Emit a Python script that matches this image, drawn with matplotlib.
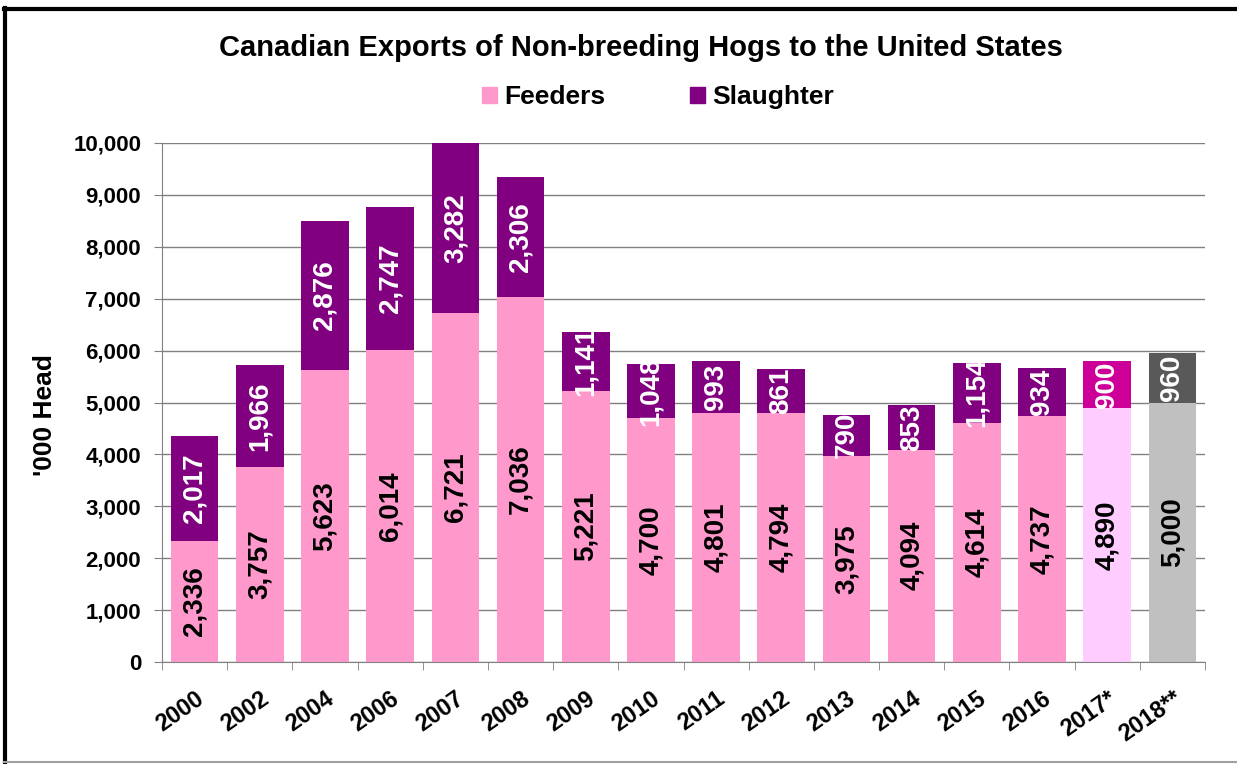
"""Plot Canadian exports of non-breeding hogs to the United States."""

import matplotlib.pyplot as plt
from matplotlib.lines import Line2D
from matplotlib.patches import Patch

years = ['2000', '2002', '2004', '2006', '2007', '2008', '2009', '2010',
         '2011', '2012', '2013', '2014', '2015', '2016', '2017*', '2018**']
feeders = [2336, 3757, 5623, 6014, 6721, 7036, 5221, 4700,
           4801, 4794, 3975, 4094, 4614, 4737, 4890, 5000]
slaughter = [2017, 1966, 2876, 2747, 3282, 2306, 1141, 1048,
             993, 861, 790, 853, 1154, 934, 900, 960]

# colours per bar: forecast years are set apart
feeder_colors = ['#FF99CC'] * 14 + ['#FFCCFF', '#C0C0C0']
slaughter_colors = ['#800080'] * 14 + ['#CC0099', '#595959']


def main():
    """Main program called during execution."""

    plt.rcParams['font.family'] = ['Liberation Sans', 'DejaVu Sans']
    plt.rcParams['font.weight'] = 'bold'

    # initialize figure
    fig = plt.figure(figsize=(12.37, 7.64), dpi=100)
    ax = fig.add_axes([162/1237, 102/764, 1043/1237, 519/764])

    # stacked bars
    x = range(len(years))
    width = 0.73
    ax.bar(x, feeders, width, color=feeder_colors, zorder=2)
    ax.bar(x, slaughter, width, bottom=feeders, color=slaughter_colors,
           zorder=2)

    # value labels inside segments
    for i, (f, s) in enumerate(zip(feeders, slaughter)):
        ax.text(i, f/2, f'{f:,}', rotation=90, ha='center', va='center',
                fontsize=20, fontweight='bold', color='black', zorder=3)
        ax.text(i, f + s/2, f'{s:,}', rotation=90, ha='center',
                va='center', fontsize=20, fontweight='bold', color='white',
                zorder=3, clip_on=False)

    # set axes properties
    ax.set_xlim(-0.5, len(years) - 0.5)
    ax.set_ylim(0, 10000)
    ax.set_yticks(range(0, 10001, 1000))
    ax.set_yticklabels([f'{v:,}' for v in range(0, 10001, 1000)],
                       fontsize=16, fontweight='bold')
    ax.set_xticks(list(x))
    ax.set_xticklabels(years, rotation=35, ha='right', rotation_mode='anchor',
                       fontsize=17, fontweight='bold')
    ax.set_xticks([i - 0.5 for i in range(len(years) + 1)], minor=True)
    ax.tick_params(axis='x', which='major', length=0, pad=18)
    ax.tick_params(axis='x', which='minor', length=6, color='#808080')
    ax.tick_params(axis='y', length=6, color='#808080', pad=9)
    ax.grid(axis='y', color='#808080', linewidth=1, zorder=0)
    for side in ('top', 'right'):
        ax.spines[side].set_visible(False)
    for side in ('left', 'bottom'):
        ax.spines[side].set_color('#808080')
    ax.set_ylabel("'000 Head", fontsize=19, fontweight='bold')
    ax.yaxis.set_label_coords(-0.101, 0.475)

    # title and legend
    fig.text(0.518, 0.937, 'Canadian Exports of Non-breeding Hogs to the '
             'United States', ha='center', va='center', fontsize=21,
             fontweight='bold')
    handles = [Patch(color='#FF99CC'), Patch(color='#800080')]
    fig.legend(handles, ['Feeders', 'Slaughter'], loc='center',
               bbox_to_anchor=(0.532, 0.873), ncol=2, frameon=False,
               fontsize=19, handlelength=0.55, handleheight=0.55,
               handletextpad=0.3, columnspacing=3.2)

    # chart border
    fig.add_artist(Line2D([0.004, 0.004], [0, 0.99], color='black',
                          linewidth=3, transform=fig.transFigure))
    fig.add_artist(Line2D([0.003, 1], [0.988, 0.988], color='black',
                          linewidth=3, transform=fig.transFigure))
    fig.add_artist(Line2D([0.003, 1], [0.002, 0.002], color='#A0A0A0',
                          linewidth=1.5, transform=fig.transFigure))

    # save figure
    fig.savefig('out.png', dpi=100)


if __name__ == '__main__':
    main()
